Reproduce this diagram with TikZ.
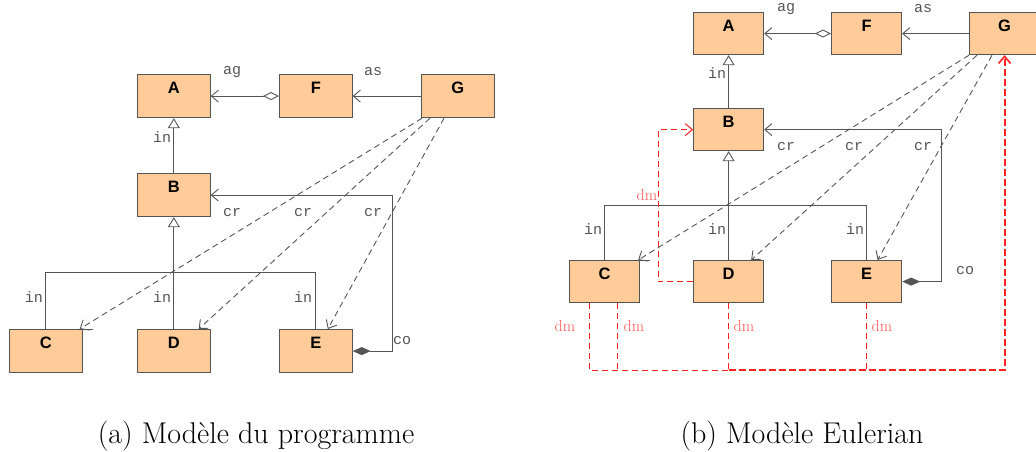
\documentclass[tikz,border=0pt]{standalone}
\usepackage{fontspec}
\newfontfamily\boxfont{Liberation Sans}
\newfontfamily\monofont{Liberation Mono}
\usetikzlibrary{arrows.meta}
\definecolor{boxfill}{HTML}{FFCC99}
\definecolor{edge}{HTML}{555555}
\definecolor{dmred}{HTML}{FF2020}
\definecolor{dmtext}{HTML}{FF5555}
\tikzset{
  cls/.style={draw=edge, line width=1.2pt, fill=boxfill, anchor=north west, inner sep=0pt},
  clsname/.style={font=\boxfont\bfseries\fontsize{16.5}{16.5}\selectfont},
  rel/.style={draw=edge, line width=0.9pt},
  openv/.style={-{Straight Barb[length=7pt,width=12pt,line width=0.9pt]}},
  inh/.style={rel, -{Triangle[open,length=10pt,width=12pt,line width=0.9pt]}},
  agg/.style={rel, {Diamond[open,length=16pt,width=8pt,line width=0.9pt]}-{Straight Barb[length=7pt,width=12pt,line width=0.9pt]}},
  comp/.style={rel, {Diamond[length=18pt,width=8pt]}-{Straight Barb[length=7pt,width=12pt,line width=0.9pt]}},
  crl/.style={rel, dashed, dash pattern=on 6pt off 4pt, openv},
  lab/.style={text=edge, font=\monofont\fontsize{15}{15}\selectfont, inner sep=0pt},
  dmlab/.style={text=dmtext, font=\fontsize{16}{16}\selectfont, inner sep=0pt},
  dml/.style={draw=dmred, line width=1pt, dash pattern=on 6pt off 4pt},
  dmthick/.style={draw=dmred, line width=1.8pt, dash pattern=on 7pt off 3pt},
  caption/.style={font=\fontsize{30}{34}\selectfont, inner sep=0pt}
}
\begin{document}
\begin{tikzpicture}[x=1pt, y=-1pt]
\useasboundingbox (0,0) rectangle (1036,452);

% ---------- (a) Modele du programme ----------
\begin{scope}[every node/.append style={minimum width=72.5pt, minimum height=43pt}]
  \node[cls] (aA) at (137,74) {};
  \node[cls] (aF) at (279,74) {};
  \node[cls] (aG) at (421,74) {};
  \node[cls] (aB) at (137,173) {};
  \node[cls] (aC) at (9,329) {};
  \node[cls] (aD) at (137,329) {};
  \node[cls] (aE) at (279,329) {};
\end{scope}
\foreach \n in {A,B,C,D,E,F,G}
  \node[clsname] at ([yshift=-14pt]a\n.north) {\n};

\draw[agg] (aF.west) -- (aA.east);
\draw[rel, openv] (aG.west) -- (aF.east);
\draw[inh] (aB.north) -- (aA.south);
\coordinate (ah) at (0,272);
\draw[rel] (aC.north) |- (ah -| aE.north) -- (aE.north);
\draw[inh] (aD.north) -- (aB.south);
\draw[rel] (aC.north east) -- ++(10,0);
\coordinate (acx) at (392,0);
\draw[comp] (aE.east) -| (acx |- aB.east) -- (aB.east);
\draw[crl] ([xshift=1pt]aG.south west) -- ([xshift=-3pt]aC.north east);
\draw[crl] ([xshift=9pt]aG.south west) -- ([xshift=-12pt]aD.north east);
\draw[crl] ([xshift=23pt]aG.south west) -- ([xshift=12pt]aE.north);

\node[lab] at (232,72) {ag};
\node[lab] at (373,72) {as};
\node[lab] at (162,137) {in};
\node[lab] at (232,213) {cr};
\node[lab] at (303,213) {cr};
\node[lab] at (373,213) {cr};
\node[lab] at (34,297) {in};
\node[lab] at (162,297) {in};
\node[lab] at (303,297) {in};
\node[lab] at (402,341) {co};

\node[caption] (capa) at (256,436) {(a) Modèle du programme};

% ---------- (b) Modele Eulerian ----------
\begin{scope}[every node/.append style={minimum width=70pt, minimum height=42pt}]
  \node[cls] (bA) at (693,12) {};
  \node[cls] (bF) at (831,12) {};
  \node[cls] (bG) at (969,12) {};
  \node[cls] (bB) at (693,108) {};
  \node[cls] (bC) at (569,260) {};
  \node[cls] (bD) at (693,260) {};
  \node[cls] (bE) at (831,260) {};
\end{scope}
\foreach \n in {A,B,C,D,E,F,G}
  \node[clsname] at ([yshift=-14pt]b\n.north) {\n};

\draw[agg] (bF.west) -- (bA.east);
\draw[rel, openv] (bG.west) -- (bF.east);
\draw[inh] (bB.north) -- (bA.south);
\coordinate (bh) at (0,205);
\draw[rel] (bC.north) |- (bh -| bE.north) -- (bE.north);
\draw[inh] (bD.north) -- (bB.south);
\draw[rel] (bC.north east) -- ++(10,0);
\coordinate (bcx) at (941,0);
\draw[comp] (bE.east) -| (bcx |- bB.east) -- (bB.east);
\draw[crl] (bG.south west) -- ([xshift=-2pt]bC.north east);
\draw[crl] ([xshift=8pt]bG.south west) -- ([xshift=-13pt]bD.north east);
\draw[crl] ([xshift=23pt]bG.south west) -- ([xshift=11pt]bE.north);

% red dm connectors
\coordinate (rdx) at (658,0);
\draw[dml, -{Straight Barb[length=7pt,width=12pt,line width=1pt]}] (bD.west) -| (rdx |- bB.west) -- (bB.west);
\coordinate (rb) at (0,370);
\draw[dml] ([xshift=20pt]bC.south west) |- (bD.south |- rb);
\draw[dml] ([xshift=48pt]bC.south west) -- ([xshift=48pt]bC.south west |- rb);
\draw[dml] (bD.south) -- (bD.south |- rb);
\draw[dml] (bE.south) -- (bE.south |- rb);
\draw[dmthick, -{Straight Barb[length=7pt,width=12pt,line width=1.6pt]}] (bD.south |- rb) -| (bG.south);

\node[lab] at (786,9) {ag};
\node[lab] at (923,9) {as};
\node[lab] at (717,73) {in};
\node[lab] at (786,147) {cr};
\node[lab] at (854,147) {cr};
\node[lab] at (923,147) {cr};
\node[lab] at (593,229) {in};
\node[lab] at (717,229) {in};
\node[lab] at (855,229) {in};
\node[lab] at (965,271) {co};
\node[dmlab] at (647,195) {dm};
\node[dmlab] at (565,326) {dm};
\node[dmlab] at (634,326) {dm};
\node[dmlab] at (744,326) {dm};
\node[dmlab] at (882,326) {dm};

\node[caption] (capb) at (802,436) {(b) Modèle Eulerian};
\end{tikzpicture}
\end{document}
